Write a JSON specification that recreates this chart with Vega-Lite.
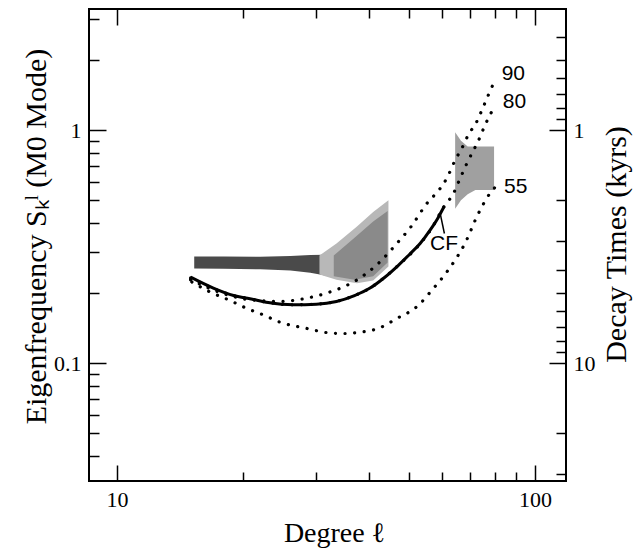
{
  "$schema": "https://vega.github.io/schema/vega-lite/v6.json",
  "width": 477,
  "height": 472,
  "autosize": "none",
  "padding": {"left": 89, "top": 9, "right": 76, "bottom": 69},
  "background": "white",
  "config": {
    "view": {"stroke": "black", "strokeWidth": 2},
    "axis": {
      "domain": false, "grid": false, "tickColor": "black", "tickWidth": 1.5,
      "labelColor": "black", "titleColor": "black",
      "labelFont": "Liberation Serif", "titleFont": "Liberation Serif",
      "titleFontWeight": "normal", "labelOverlap": false, "labelBound": false, "labelFlush": false
    }
  },
  "datasets": {
    "shades": [
      {"region": "a_band", "l": 15.3, "lo": 0.255, "hi": 0.287},
      {"region": "a_band", "l": 18.0, "lo": 0.254, "hi": 0.287},
      {"region": "a_band", "l": 22.0, "lo": 0.253, "hi": 0.286},
      {"region": "a_band", "l": 26.0, "lo": 0.250, "hi": 0.288},
      {"region": "a_band", "l": 29.0, "lo": 0.244, "hi": 0.291},
      {"region": "a_band", "l": 31.5, "lo": 0.238, "hi": 0.292},
      {"region": "b_fan", "l": 30.5, "lo": 0.240, "hi": 0.290},
      {"region": "b_fan", "l": 33.5, "lo": 0.228, "hi": 0.326},
      {"region": "b_fan", "l": 37.5, "lo": 0.220, "hi": 0.386},
      {"region": "b_fan", "l": 41.0, "lo": 0.226, "hi": 0.445},
      {"region": "b_fan", "l": 44.6, "lo": 0.260, "hi": 0.500},
      {"region": "c_core", "l": 33.0, "lo": 0.236, "hi": 0.290},
      {"region": "c_core", "l": 37.0, "lo": 0.228, "hi": 0.345},
      {"region": "c_core", "l": 41.0, "lo": 0.236, "hi": 0.405},
      {"region": "c_core", "l": 44.4, "lo": 0.270, "hi": 0.450},
      {"region": "d_blob", "l": 64.4, "lo": 0.460, "hi": 0.980},
      {"region": "d_blob", "l": 66.5, "lo": 0.500, "hi": 0.900},
      {"region": "d_blob", "l": 69.0, "lo": 0.530, "hi": 0.850},
      {"region": "d_blob", "l": 72.0, "lo": 0.553, "hi": 0.850},
      {"region": "d_blob", "l": 79.8, "lo": 0.553, "hi": 0.850}
    ],
    "dots": [
      {"curve": "90", "l": 15.0, "S": 0.228},
      {"curve": "90", "l": 17.0, "S": 0.206},
      {"curve": "90", "l": 19.0, "S": 0.193},
      {"curve": "90", "l": 20.8, "S": 0.187},
      {"curve": "90", "l": 24.5, "S": 0.184},
      {"curve": "90", "l": 28.0, "S": 0.189},
      {"curve": "90", "l": 31.5, "S": 0.199},
      {"curve": "90", "l": 34.5, "S": 0.211},
      {"curve": "90", "l": 37.4, "S": 0.227},
      {"curve": "90", "l": 42.0, "S": 0.266},
      {"curve": "90", "l": 46.7, "S": 0.326},
      {"curve": "90", "l": 50.5, "S": 0.385},
      {"curve": "90", "l": 55.1, "S": 0.484},
      {"curve": "90", "l": 58.2, "S": 0.540},
      {"curve": "90", "l": 60.3, "S": 0.585},
      {"curve": "90", "l": 62.0, "S": 0.640},
      {"curve": "90", "l": 64.4, "S": 0.743},
      {"curve": "90", "l": 66.8, "S": 0.835},
      {"curve": "90", "l": 69.2, "S": 0.952},
      {"curve": "90", "l": 72.5, "S": 1.085},
      {"curve": "90", "l": 75.2, "S": 1.259},
      {"curve": "90", "l": 77.3, "S": 1.413},
      {"curve": "90", "l": 80.2, "S": 1.639},
      {"curve": "80", "l": 15.0, "S": 0.232},
      {"curve": "80", "l": 17.0, "S": 0.209},
      {"curve": "80", "l": 19.0, "S": 0.195},
      {"curve": "80", "l": 20.8, "S": 0.189},
      {"curve": "80", "l": 23.0, "S": 0.182},
      {"curve": "80", "l": 26.4, "S": 0.178},
      {"curve": "80", "l": 30.0, "S": 0.179},
      {"curve": "80", "l": 33.5, "S": 0.184},
      {"curve": "80", "l": 37.0, "S": 0.195},
      {"curve": "80", "l": 40.3, "S": 0.210},
      {"curve": "80", "l": 43.5, "S": 0.232},
      {"curve": "80", "l": 47.1, "S": 0.263},
      {"curve": "80", "l": 52.5, "S": 0.318},
      {"curve": "80", "l": 56.1, "S": 0.370},
      {"curve": "80", "l": 60.6, "S": 0.470},
      {"curve": "80", "l": 63.8, "S": 0.535},
      {"curve": "80", "l": 66.2, "S": 0.621},
      {"curve": "80", "l": 68.7, "S": 0.720},
      {"curve": "80", "l": 73.9, "S": 0.936},
      {"curve": "80", "l": 75.9, "S": 1.050},
      {"curve": "80", "l": 78.0, "S": 1.160},
      {"curve": "80", "l": 79.5, "S": 1.239},
      {"curve": "55", "l": 15.1, "S": 0.223},
      {"curve": "55", "l": 16.7, "S": 0.202},
      {"curve": "55", "l": 18.6, "S": 0.186},
      {"curve": "55", "l": 20.4, "S": 0.172},
      {"curve": "55", "l": 22.4, "S": 0.161},
      {"curve": "55", "l": 24.5, "S": 0.150},
      {"curve": "55", "l": 28.4, "S": 0.141},
      {"curve": "55", "l": 32.0, "S": 0.135},
      {"curve": "55", "l": 35.0, "S": 0.134},
      {"curve": "55", "l": 38.5, "S": 0.136},
      {"curve": "55", "l": 42.2, "S": 0.141},
      {"curve": "55", "l": 46.7, "S": 0.1555},
      {"curve": "55", "l": 52.1, "S": 0.1744},
      {"curve": "55", "l": 57.1, "S": 0.209},
      {"curve": "55", "l": 62.0, "S": 0.251},
      {"curve": "55", "l": 68.0, "S": 0.327},
      {"curve": "55", "l": 73.2, "S": 0.439},
      {"curve": "55", "l": 78.0, "S": 0.535},
      {"curve": "55", "l": 80.7, "S": 0.575}
    ],
    "cf": [
      {"l": 15.0, "S": 0.234},
      {"l": 17.0, "S": 0.210},
      {"l": 19.0, "S": 0.195},
      {"l": 20.8, "S": 0.189},
      {"l": 23.0, "S": 0.182},
      {"l": 26.4, "S": 0.178},
      {"l": 30.0, "S": 0.179},
      {"l": 33.5, "S": 0.184},
      {"l": 37.0, "S": 0.195},
      {"l": 40.3, "S": 0.210},
      {"l": 43.5, "S": 0.232},
      {"l": 47.1, "S": 0.263},
      {"l": 50.0, "S": 0.292},
      {"l": 53.1, "S": 0.326},
      {"l": 56.1, "S": 0.372},
      {"l": 58.5, "S": 0.418},
      {"l": 60.6, "S": 0.470}
    ],
    "leader": [
      {"l": 59.3, "S": 0.439, "l2": 60.7, "S2": 0.360}
    ],
    "labels": [
      {"l": 83.2, "S": 1.739, "text": "90"},
      {"l": 83.7, "S": 1.323, "text": "80"},
      {"l": 84.3, "S": 0.572, "text": "55"},
      {"l": 56.1, "S": 0.324, "text": "CF"}
    ]
  },
  "layer": [
    {
      "data": {"name": "shades"},
      "mark": {"type": "area", "interpolate": "linear"},
      "encoding": {
        "x": {"field": "l", "type": "quantitative",
          "scale": {"type": "log", "domain": [8.57, 118.6], "nice": false},
          "axis": {
            "orient": "bottom", "title": "Degree ℓ", "titleFont": "Times New Roman, Liberation Serif, serif", "titleFontSize": 28,
            "titleX": 245, "titleY": 60, "titleBaseline": "alphabetic", "titleAlign": "center",
            "values": [10, 20, 30, 40, 50, 60, 70, 80, 90, 100],
            "labelExpr": "datum.value == 10 ? '10' : datum.value == 100 ? '100' : ''",
            "labelFont": "Liberation Serif", "labelFontSize": 22, "labelPadding": 24,
            "tickSize": {"condition": {"test": "datum.value == 10 || datum.value == 100", "value": -16}, "value": -9}
          }
        },
        "y": {"field": "lo", "type": "quantitative", "stack": null,
          "scale": {"type": "log", "domain": [0.0312, 3.31], "nice": false},
          "axis": {
            "orient": "left", "title": "Eigenfrequency  Sₖˡ (M0 Mode)", "titleFont": "Times New Roman, Liberation Serif, serif", "titleFontSize": 30,
            "titleX": -53, "titleY": 227, "titleBaseline": "middle", "titleAlign": "center", "titleAngle": -90,
            "values": [0.04, 0.05, 0.06, 0.07, 0.08, 0.09, 0.1, 0.2, 0.3, 0.4, 0.5, 0.6, 0.7, 0.8, 0.9, 1, 2, 3],
            "labelExpr": "datum.value == 1 ? '1' : datum.value == 0.1 ? '0.1' : ''",
            "labelFont": "Liberation Serif", "labelFontSize": 22, "labelPadding": 25,
            "tickSize": {"condition": {"test": "datum.value == 1 || datum.value == 0.1", "value": -17}, "value": -10}
          }
        },
        "y2": {"field": "hi"},
        "fill": {"field": "region", "type": "nominal",
          "scale": {"domain": ["a_band", "b_fan", "c_core", "d_blob"], "range": ["#4a4a4a", "#b8b8b8", "#8a8a8a", "#a0a0a0"]},
          "legend": null}
      }
    },
    {
      "data": {"name": "dots"},
      "mark": {"type": "line", "color": "black", "strokeWidth": 3.2, "strokeCap": "round", "strokeDash": [0.1, 9.5], "interpolate": "monotone"},
      "encoding": {
        "x": {"field": "l", "type": "quantitative",
          "scale": {"type": "log", "domain": [8.57, 118.6], "nice": false},
          "axis": {
            "orient": "top", "title": null, "labels": false,
            "values": [10, 20, 30, 40, 50, 60, 70, 80, 90, 100],
            "tickSize": {"condition": {"test": "datum.value == 10 || datum.value == 100", "value": -16}, "value": -9}
          }
        },
        "y": {"field": "S", "type": "quantitative",
          "scale": {"type": "log", "domain": [0.0312, 3.31], "nice": false},
          "axis": {
            "orient": "right", "title": "Decay Times (kyrs)", "titleFont": "Times New Roman, Liberation Serif, serif", "titleFontSize": 30,
            "titleX": 50, "titleY": 235, "titleAngle": -90, "titleBaseline": "middle", "titleAlign": "center",
            "values": [2.5, 2, 1.6667, 1.4286, 1.25, 1.1111, 1, 0.5, 0.33333, 0.25, 0.2, 0.16667, 0.142857, 0.125, 0.11111, 0.1, 0.05, 0.033333],
            "labelExpr": "datum.value == 1 ? '1' : datum.value == 0.1 ? '10' : ''",
            "labelFont": "Liberation Serif", "labelFontSize": 22, "labelPadding": 24,
            "tickSize": {"condition": {"test": "datum.value == 1 || datum.value == 0.1", "value": -17}, "value": -10}
          }
        },
        "detail": {"field": "curve", "type": "nominal"}
      }
    },
    {
      "data": {"name": "cf"},
      "mark": {"type": "line", "color": "black", "strokeWidth": 3, "interpolate": "monotone"},
      "encoding": {
        "x": {"field": "l", "type": "quantitative", "scale": {"type": "log", "domain": [8.57, 118.6], "nice": false}, "axis": null},
        "y": {"field": "S", "type": "quantitative", "scale": {"type": "log", "domain": [0.0312, 3.31], "nice": false}, "axis": null}
      }
    },
    {
      "data": {"name": "leader"},
      "mark": {"type": "rule", "color": "black", "strokeWidth": 1.5},
      "encoding": {
        "x": {"field": "l", "type": "quantitative", "scale": {"type": "log", "domain": [8.57, 118.6], "nice": false}, "axis": null},
        "y": {"field": "S", "type": "quantitative", "scale": {"type": "log", "domain": [0.0312, 3.31], "nice": false}, "axis": null},
        "x2": {"field": "l2"},
        "y2": {"field": "S2"}
      }
    },
    {
      "data": {"name": "labels"},
      "mark": {"type": "text", "align": "left", "baseline": "middle", "font": "Liberation Sans", "fontSize": 21, "color": "black"},
      "encoding": {
        "x": {"field": "l", "type": "quantitative", "scale": {"type": "log", "domain": [8.57, 118.6], "nice": false}, "axis": null},
        "y": {"field": "S", "type": "quantitative", "scale": {"type": "log", "domain": [0.0312, 3.31], "nice": false}, "axis": null},
        "text": {"field": "text", "type": "nominal"}
      }
    }
  ],
  "resolve": {"axis": {"x": "independent", "y": "independent"}}
}
